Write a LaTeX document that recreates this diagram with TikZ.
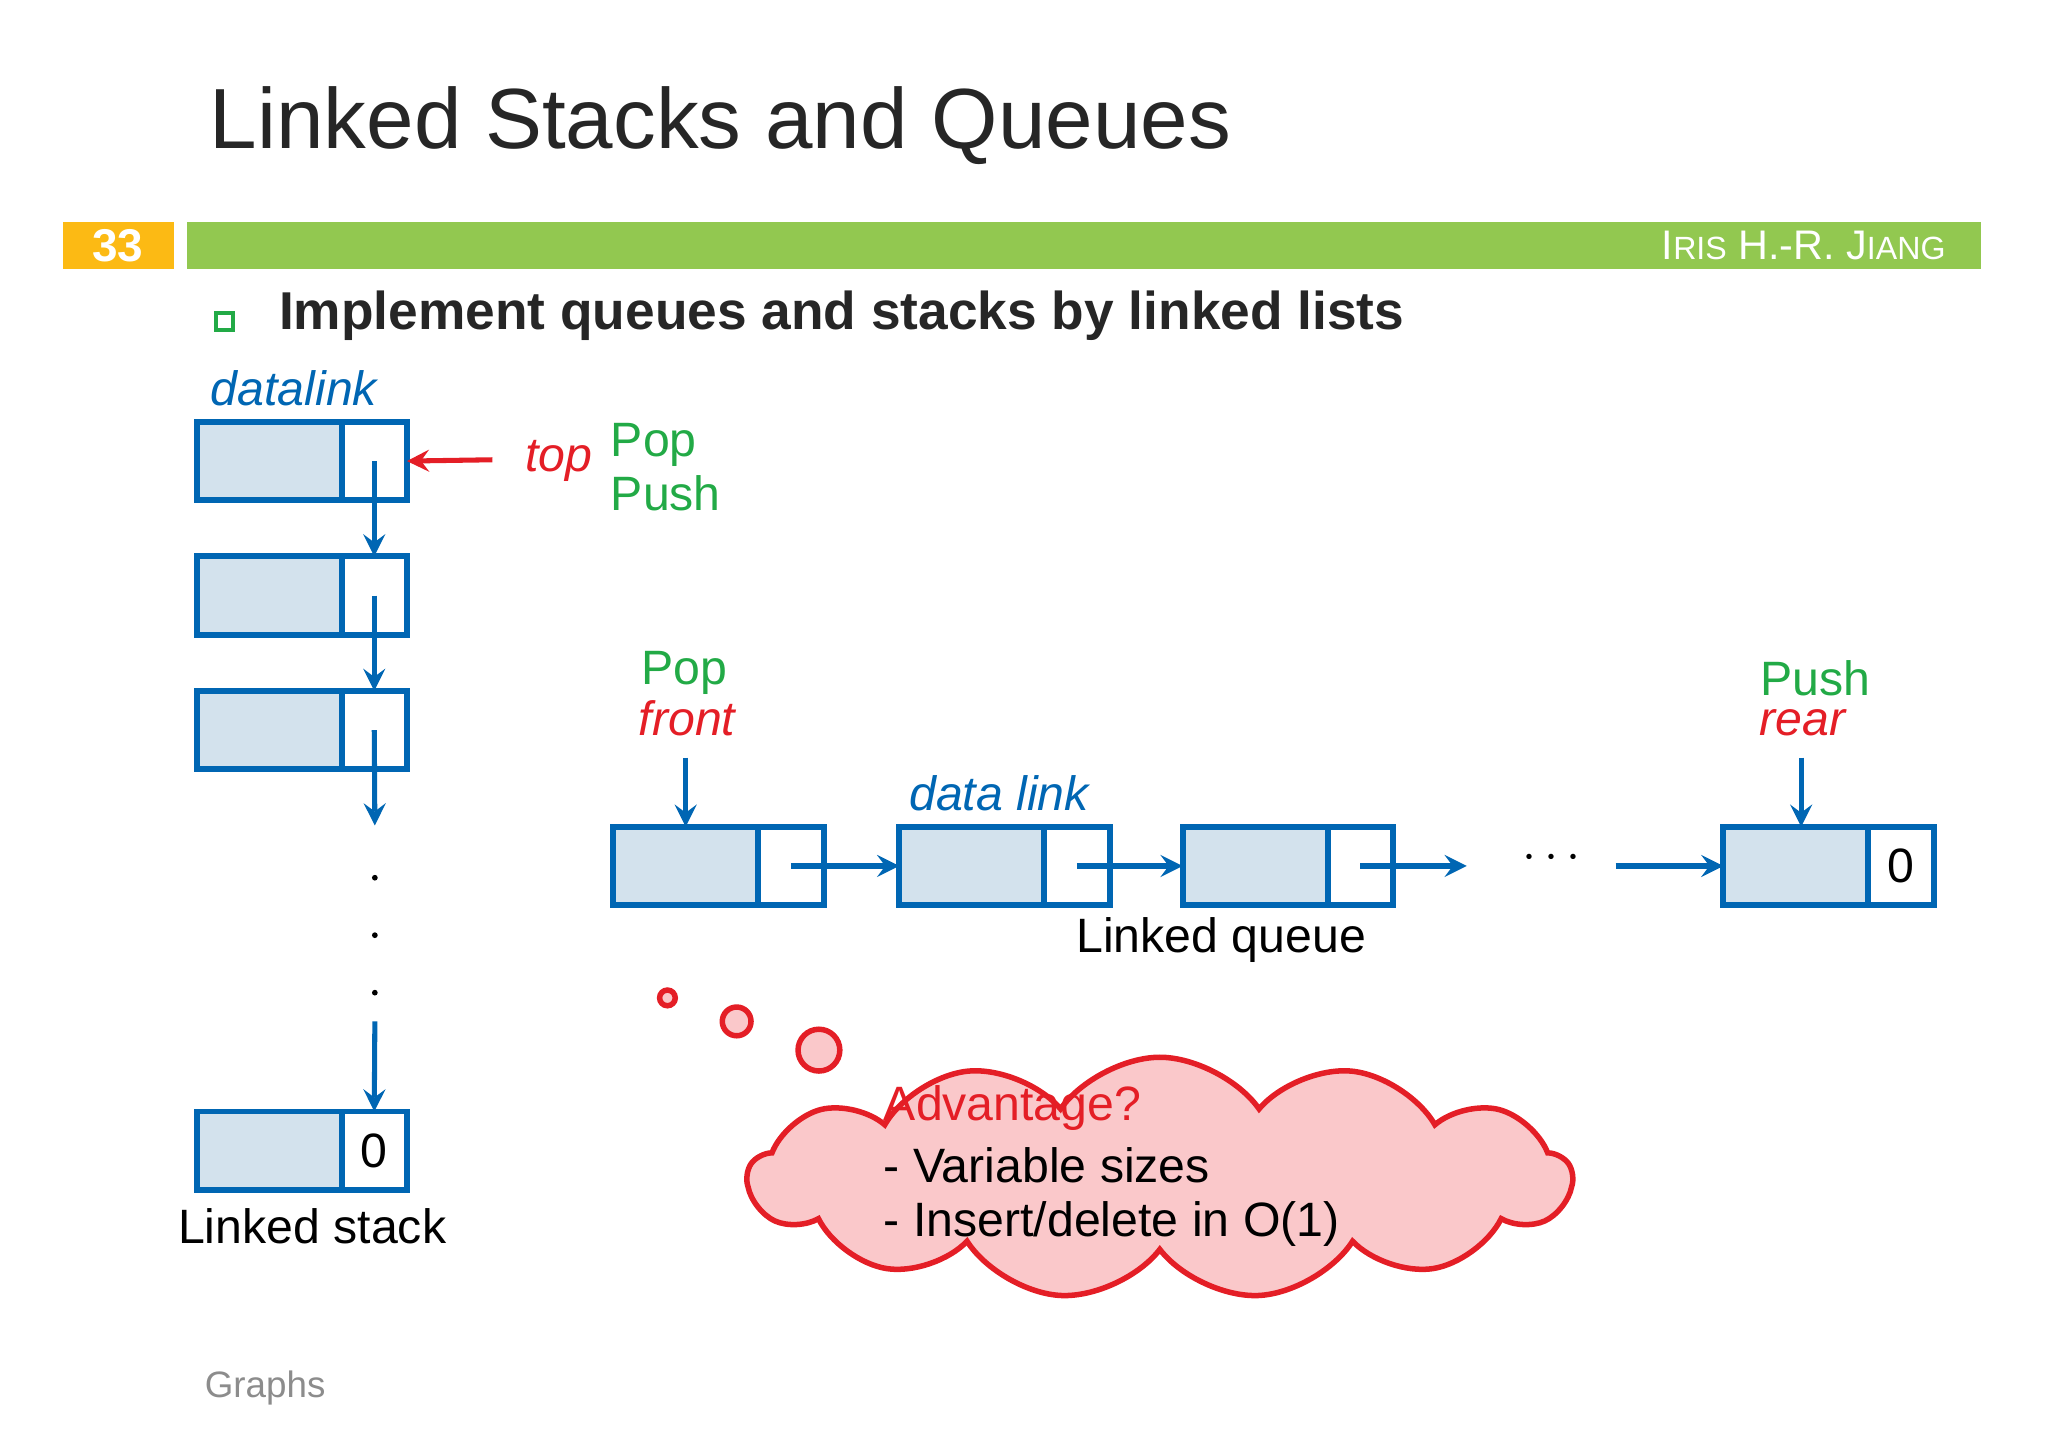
\documentclass[tikz,border=0pt]{standalone}
\usepackage{fontspec}
\setmainfont{Liberation Sans}
\usetikzlibrary{shapes.symbols,positioning}
\definecolor{azul}{RGB}{0,102,179}
\definecolor{celeste}{RGB}{211,226,237}
\definecolor{rojo}{RGB}{228,30,38}
\definecolor{verde}{RGB}{34,170,70}
\definecolor{lima}{RGB}{146,200,80}
\definecolor{oro}{RGB}{252,186,20}
\definecolor{rosa}{RGB}{250,200,202}
\tikzset{
  datacell/.style={draw=azul, line width=1.3pt, fill=celeste, minimum width=1.11cm,
                   minimum height=0.6cm, inner sep=0pt, outer sep=0pt},
  linkcell/.style={draw=azul, line width=1.3pt, fill=white, minimum width=0.5cm,
                   minimum height=0.6cm, inner sep=0pt, outer sep=0pt, font=\fontsize{10.5}{12}\selectfont},
  ptr/.style={->, >=stealth, draw=azul, line width=1.1pt},
  lbl/.style={inner sep=0pt, font=\fontsize{10.5}{12}\selectfont},
  ilbl/.style={inner sep=0pt, font=\itshape\fontsize{10.5}{12}\selectfont},
}
\begin{document}
\begin{tikzpicture}[x=0.01cm, y=-0.01cm]
    \useasboundingbox (0,0) rectangle (1568,1108);
    % header
    \node[anchor=west, inner sep=0pt, font=\fontsize{18.6}{22}\selectfont, text=black!85] (title) at (160,96) {Linked Stacks and Queues};
    \fill[oro] (48,170) rectangle (133,206);
    \fill[lima] (143,170) rectangle (1517,206);
    \node[text=white, font=\bfseries\fontsize{10}{12}\selectfont] (page) at (90,188) {33};
    \node[anchor=east, text=white, font=\fontsize{9}{11}\selectfont] (author) at (1502,188)
        {I{\fontsize{7}{8}\selectfont RIS} H.-R. J{\fontsize{7}{8}\selectfont IANG}};
    \node[draw=verde, line width=0.8pt, minimum size=0.13cm, inner sep=0pt] (bullet) at (172,246) {};
    \node[anchor=west, inner sep=0pt, font=\bfseries\fontsize{11.6}{14}\selectfont, text=black!85] (head) at (213,242) {Implement queues and stacks by linked lists};

    % linked stack
    \node[ilbl, text=azul] (sname) at (225,297) {datalink};
    \foreach \i/\y in {1/353,2/456,3/559,4/881}
        \node[datacell] (s\i d) at (206,\y) {};
    \foreach \i in {1,2,3}
        \node[linkcell, right=0pt of s\i d] (s\i l) {};
    \node[linkcell, right=0pt of s4d] (s4l) {0};
    \coordinate (s3e) at (287,632);
    \coordinate (s4b) at (287,782);
    \draw[ptr] (s1l.center) -- (s2l.north);
    \draw[ptr] (s2l.center) -- (s3l.north);
    \draw[ptr] (s3l.center) -- (s3e);
    \draw[ptr] (s4b) -- (s4l.north);
    \foreach \y in {672,716,760}
        \fill (287,\y) circle (2.2);
    \node[ilbl, text=rojo] (top) at (428,353) {top};
    \coordinate (topt) at (377,352);
    \draw[->, >=stealth, rojo, line width=1.1pt] (topt) -- (s1l.east);
    \node[lbl, anchor=west, text=verde] (spop) at (467,341) {Pop};
    \node[lbl, anchor=west, text=verde] (spush) at (467,378) {Push};
    \node[lbl] (sstack) at (239,939) {Linked stack};

    % linked queue
    \foreach \i/\x in {1/525,2/744,3/961,4/1375}
        \node[datacell] (q\i d) at (\x,663) {};
    \foreach \i in {1,2,3}
        \node[linkcell, right=0pt of q\i d] (q\i l) {};
    \node[linkcell, right=0pt of q4d] (q4l) {0};
    \coordinate (q3e) at (1123,663);
    \coordinate (q4b) at (1237,663);
    \node[lbl] (qdots) at (1188,657) {$\cdots$};
    \draw[ptr] (q1l.center) -- (q2d.west);
    \draw[ptr] (q2l.center) -- (q3d.west);
    \draw[ptr] (q3l.center) -- (q3e);
    \draw[ptr] (q4b) -- (q4d.west);
    \node[lbl, text=verde] (qpop) at (524,515) {Pop};
    \node[ilbl, text=rojo] (front) at (526,550) {front};
    \node[lbl, text=verde] (qpush) at (1390,519) {Push};
    \node[ilbl, text=rojo] (rear) at (1380,553) {rear};
    \coordinate (frontt) at (525,580);
    \coordinate (reart) at (1379,580);
    \draw[ptr] (frontt) -- (q1d.north -| frontt);
    \draw[ptr] (reart) -- (q4d.north -| reart);
    \node[ilbl, text=azul] (qname) at (765,607) {data link};
    \node[lbl] (qqueue) at (935,720) {Linked queue};

    % thought cloud
    \node[cloud, cloud puffs=13, cloud puff arc=110, aspect=2.8, draw=rojo, fill=rosa,
          line width=1.2pt, minimum width=6.3cm, minimum height=1.85cm] (cloud) at (888,902) {};
    \foreach \n/\x/\y/\r in {b1/511/764/6, b2/564/782/11, b3/627/804/16}
        \node[circle, draw=rojo, fill=rosa, line width=1.2pt, minimum size=2*\r*0.01cm, inner sep=0pt] (\n) at (\x,\y) {};
    \node[lbl, anchor=west, text=rojo] (adv) at (676,848) {Advantage?};
    \node[lbl, anchor=west] (adv1) at (676,892) {- Variable sizes};
    \node[lbl, anchor=west] (adv2) at (676,937) {- Insert/delete in O(1)};

    \node[inner sep=0pt, text=black!45, font=\fontsize{8}{10}\selectfont] (foot) at (203,1063) {Graphs};
\end{tikzpicture}
\end{document}
